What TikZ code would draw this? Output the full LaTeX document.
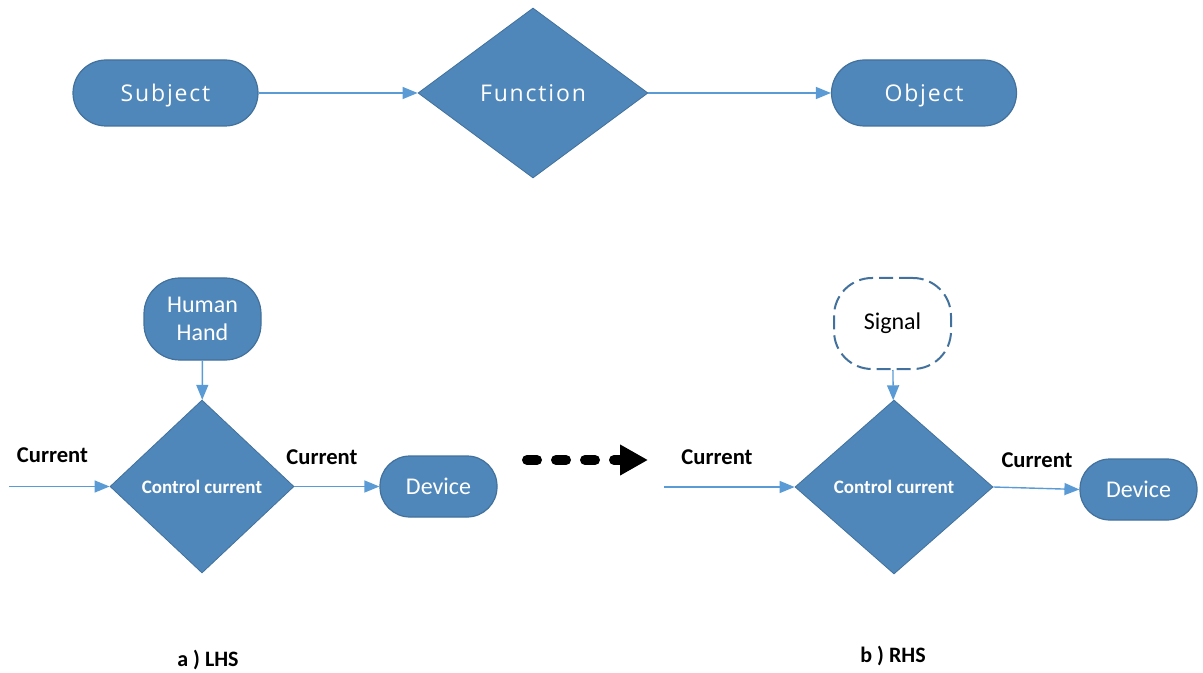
\documentclass[tikz,border=0pt]{standalone}
\usepackage{fontspec}
\setmainfont{Carlito}
\newfontfamily\topfont[LetterSpace=8]{Open Sans}
\usetikzlibrary{shapes.geometric,arrows.meta}
\definecolor{boxblue}{RGB}{79,135,186}
\definecolor{edgeblue}{RGB}{65,113,156}
\definecolor{linkblue}{RGB}{91,155,213}
\tikzset{
  pill/.style={fill=boxblue, draw=edgeblue, line width=0.6pt, text=white, rounded corners=#1},
  pill/.default=16pt,
  topterm/.style={pill=16.5pt, minimum width=92.5pt, minimum height=33pt, text depth=0pt, font=\topfont\fontsize{11.5}{13}\selectfont},
  decide/.style={diamond, fill=boxblue, draw=edgeblue, line width=0.4pt, text=white, inner sep=0pt},
  devbox/.style={pill=15pt, minimum width=58.5pt, minimum height=30.5pt, font=\fontsize{12}{14}\selectfont},
  link/.style={draw=linkblue, line width=0.7pt, -{Triangle[length=7.5pt,width=6pt]}},
  currentlabel/.style={font=\bfseries\fontsize{11.3}{13}\selectfont},
  caption/.style={font=\bfseries\fontsize{11}{12}\selectfont},
}

\begin{document}
\begin{tikzpicture}[x=0.5pt,y=-0.5pt]
\useasboundingbox (0,0) rectangle (1203,673);
% top row
\node[topterm] (subject) at (165.5,93) {Subject};
\node[decide, minimum width=115pt, minimum height=85pt, font=\topfont\fontsize{11.5}{13}\selectfont] (function) at (533,93) {Function};
\node[topterm] (object) at (924,93) {Object};
\draw[link] (subject) -- (function);
\draw[link] (function) -- (object);
% a) LHS
\node[pill=18pt, minimum width=58.5pt, minimum height=41pt, align=center, font=\fontsize{12}{14}\selectfont] (hand) at (202.5,319) {Human\\Hand};
\node[decide, minimum width=92pt, minimum height=86.5pt, font=\bfseries\fontsize{9.5}{11}\selectfont] (ctrlA) at (202,486.5) {Control current};
\node[devbox] (deviceA) at (438.5,486.5) {Device};
\coordinate (inA) at (9,486.5);
\draw[link] (hand) -- (ctrlA);
\draw[link] (inA) -- (ctrlA.west);
\draw[link] (ctrlA.east) -- (deviceA.west);
\node[currentlabel] (curA1) at (52.5,455) {Current};
\node[currentlabel] (curA2) at (322,457) {Current};
\node[caption] (capA) at (208,660) {a ) LHS};
% transition arrow
\coordinate (tfrom) at (527,460);
\coordinate (tto) at (648,460);
\draw[line width=5pt, line cap=round, dash pattern=on 5pt off 9.5pt, -{Triangle[length=14pt,width=14.5pt]}] (tfrom) -- (tto);
% b) RHS
\node[fill=white, draw=edgeblue, line width=1pt, dash pattern=on 7pt off 3pt, rounded corners=19pt, minimum width=58.5pt, minimum height=45.5pt, font=\fontsize{12}{14}\selectfont] (signal) at (892.5,323.5) {Signal};
\node[decide, minimum width=99pt, minimum height=87pt, font=\bfseries\fontsize{9.5}{11}\selectfont] (ctrlB) at (894,487) {Control current};
\node[devbox] (deviceB) at (1138.5,489.5) {Device};
\coordinate (inB) at (664,487);
\draw[link] (signal) -- (ctrlB);
\draw[link] (inB) -- (ctrlB.west);
\draw[link] (ctrlB.east) -- (deviceB.west);
\node[currentlabel] (curB1) at (717,457) {Current};
\node[currentlabel] (curB2) at (1037,460) {Current};
\node[caption] (capB) at (893,656) {b ) RHS};
\end{tikzpicture}
\end{document}
